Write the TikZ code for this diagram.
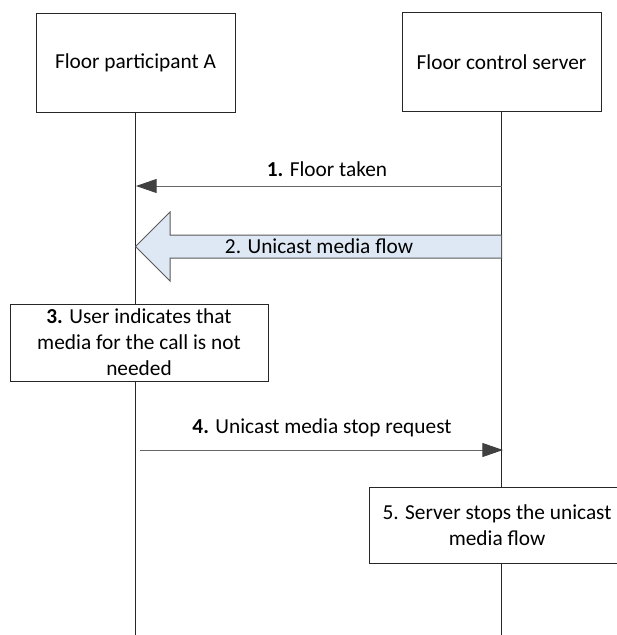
\documentclass[tikz,border=0pt]{standalone}
\usepackage{fontspec}
\setmainfont{Carlito}
\usetikzlibrary{arrows.meta}
\definecolor{flowfill}{RGB}{222,232,245}
\begin{document}
\begin{tikzpicture}[x=0.75pt,y=-0.75pt,
  every node/.style={font=\fontsize{16}{19.5}\selectfont, text=black},
  entity/.style={draw=black!85, line width=0.75pt, fill=white, minimum width=199*0.75pt, minimum height=98*0.75pt, inner sep=0pt},
  notebox/.style={draw=black!85, line width=0.75pt, fill=white, align=center, inner sep=0pt},
  life/.style={draw=black!85, line width=0.75pt},
  msg/.style={draw=black!60, line width=0.75pt, -{Triangle[length=15.5pt,width=10.5pt,fill=black!75,color=black!75]}},
  flow/.style={draw=black!65, line width=0.75pt, fill=flowfill},
  lbl/.style={inner sep=0pt}
]
\useasboundingbox (0,0) rectangle (617,635);
\clip (0,0) rectangle (617,635);
% entities
\node[entity] (A) at (135.5,63) {Floor participant A};
\node[entity] (B) at (501.5,62) {Floor control server};
\coordinate (Aend) at (135.5,640);
\coordinate (Bend) at (501.5,640);
\draw[life] (A.south) -- (Aend);
\draw[life] (B.south) -- (Bend);
% message 1
\coordinate (m1s) at (501.5,186);
\coordinate (m1e) at (136,186);
\draw[msg] (m1s) -- (m1e);
\node[lbl] (l1) at (327,169) {\textbf{1.} Floor taken};
% flow 2
\coordinate (f2t) at (501.5,235);
\coordinate (f2b) at (501.5,258);
\coordinate (f2tip) at (135.5,246.5);
\draw[flow] (f2t) -- (170,235) -- (170,212) -- (f2tip) -- (170,281) -- (170,258) -- (f2b) -- cycle;
\node[lbl] (l2) at (319,246) {2. Unicast media flow};
% box 3
\node[notebox, minimum width=258*0.75pt, minimum height=77*0.75pt] (n3) at (139,342.5)
  {\textbf{3.} User indicates that\\media for the call is not\\needed};
% message 4
\coordinate (m4s) at (140,450);
\coordinate (m4e) at (503,450);
\draw[msg] (m4s) -- (m4e);
\node[lbl] (l4) at (322,428) {\textbf{4.} Unicast media stop request};
% box 5
\node[notebox, minimum width=256*0.75pt, minimum height=76*0.75pt] (n5) at (497,525)
  {5. Server stops the unicast\\media flow};
\end{tikzpicture}
\end{document}
